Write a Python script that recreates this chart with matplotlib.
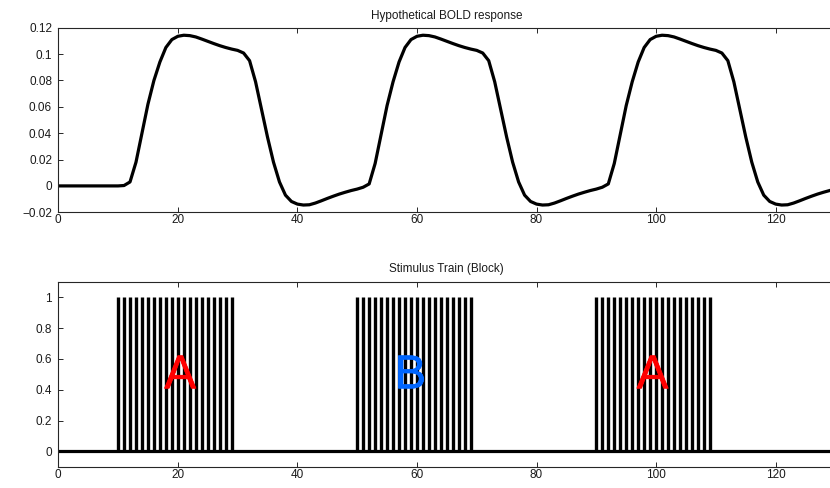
import matplotlib
matplotlib.use("Agg")
import matplotlib.pyplot as plt
import matplotlib.patheffects as pe
from matplotlib.ticker import FuncFormatter

# ---- data ----
bold_time = list(range(0, 131))
bold_cycle1 = [0, 0, 0, 0, 0, 0, 0, 0, 0, 0, 0,
               0.0003, 0.003, 0.018, 0.040, 0.062, 0.080, 0.094, 0.105, 0.111, 0.1135,
               0.1143, 0.1140, 0.1130, 0.1114, 0.1097, 0.1080, 0.1064, 0.1050, 0.1038, 0.1028,
               0.1008, 0.095, 0.079, 0.058, 0.037, 0.018, 0.003, -0.007, -0.0118, -0.0138,
               -0.0145, -0.0143, -0.0130, -0.0113, -0.0095, -0.0078, -0.0062, -0.0048, -0.0035, -0.0024]
bold_cycle2 = [-0.0010, 0.0015, 0.017, 0.039, 0.061, 0.079, 0.094, 0.105, 0.111, 0.1135,
               0.1143, 0.1140, 0.1130, 0.1114, 0.1097, 0.1080, 0.1064, 0.1050, 0.1038, 0.1028,
               0.1008, 0.095, 0.079, 0.058, 0.037, 0.018, 0.003, -0.007, -0.0118, -0.0138,
               -0.0145, -0.0143, -0.0130, -0.0113, -0.0095, -0.0078, -0.0062, -0.0048, -0.0035, -0.0024]
bold_cycle3 = [-0.0010, 0.0015, 0.017, 0.039, 0.061, 0.079, 0.094, 0.105, 0.111, 0.1135,
               0.1143, 0.1140, 0.1130, 0.1114, 0.1097, 0.1080, 0.1064, 0.1050, 0.1038, 0.1028,
               0.1008, 0.095, 0.079, 0.058, 0.037, 0.018, 0.003, -0.007, -0.0118, -0.0138,
               -0.0145, -0.0143, -0.0130, -0.0113, -0.0095, -0.0078, -0.0062, -0.0048, -0.0035, -0.0024]
bold_values = bold_cycle1 + bold_cycle2 + bold_cycle3

stim_times = [10, 11, 12, 13, 14, 15, 16, 17, 18, 19, 20, 21, 22, 23, 24, 25, 26, 27, 28, 29,
              50, 51, 52, 53, 54, 55, 56, 57, 58, 59, 60, 61, 62, 63, 64, 65, 66, 67, 68, 69,
              90, 91, 92, 93, 94, 95, 96, 97, 98, 99, 100, 101, 102, 103, 104, 105, 106, 107, 108, 109]
stim_values = [1] * len(stim_times)

block_labels = ["A", "B", "A"]
block_label_x = [20.4, 58.9, 99.4]
block_label_colors = ["#ff0000", "#0066ff", "#ff0000"]

top_title = "Hypothetical BOLD response"
bottom_title = "Stimulus Train (Block)"
x_ticks = [0, 20, 40, 60, 80, 100, 120]
top_yticks = [-0.02, 0, 0.02, 0.04, 0.06, 0.08, 0.1, 0.12]
bottom_yticks = [0, 0.2, 0.4, 0.6, 0.8, 1]

# ---- figure ----
plt.rcParams['font.family'] = ['Liberation Sans', 'DejaVu Sans']
fig = plt.figure(figsize=(8.30, 4.88), dpi=100)

ax1 = fig.add_axes([0.0702, 0.5650, 0.9364, 0.3782])
ax2 = fig.add_axes([0.0702, 0.0436, 0.9364, 0.3785])

fmt = FuncFormatter(lambda v, p: ("%g" % v).replace("-", "\u2212"))
spine_c = "#262626"

for ax in (ax1, ax2):
    ax.set_xlim(0, 130)
    ax.set_xticks(x_ticks)
    ax.tick_params(direction='in', length=3.6, width=0.7, colors=spine_c,
                   labelcolor="#1a1a1a", labelsize=8.5, top=True, right=True)
    ax.tick_params(axis='x', pad=1.5)
    ax.tick_params(axis='y', pad=4.5)
    ax.yaxis.set_major_formatter(fmt)
    for s in ax.spines.values():
        s.set_linewidth(0.8)
        s.set_color(spine_c)

ax1.plot(bold_time, bold_values, color='black', linewidth=2.3, solid_joinstyle='round')
ax1.set_ylim(-0.02, 0.12)
ax1.set_yticks(top_yticks)
ax1.set_title(top_title, fontsize=8.5, pad=6, color="#1a1a1a")

ax2.vlines(stim_times, 0, stim_values, colors='black', linewidth=2.4)
ax2.axhline(0, color='black', linewidth=2.3)
ax2.set_ylim(-0.1, 1.1)
ax2.set_yticks(bottom_yticks)
ax2.set_title(bottom_title, fontsize=8.5, pad=7, color="#1a1a1a")

for lab, lx, lc in zip(block_labels, block_label_x, block_label_colors):
    ax2.text(lx, 0.41, lab, color=lc, fontsize=34, ha='center', va='baseline', zorder=5,
             path_effects=[pe.withStroke(linewidth=0.6, foreground=lc)])

fig.savefig("out.png", dpi=100)
